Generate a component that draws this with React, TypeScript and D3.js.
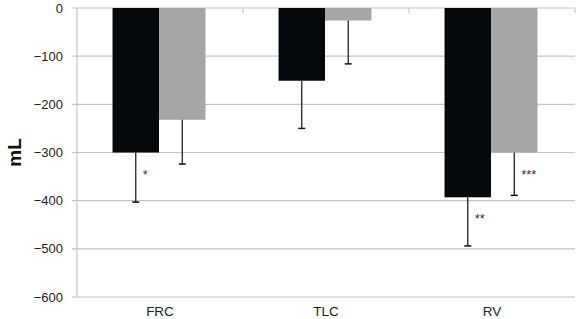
import React from "react";
import * as d3 from "d3";

const categories = ["FRC", "TLC", "RV"];
const blackValues = [-300, -151, -393];
const blackErrors = [-403, -250, -494];
const greyValues = [-232, -26, -300];
const greyErrors = [-324, -116, -389];
const blackMarks = ["*", "", "**"];
const greyMarks = ["", "", "***"];
const yTicks = [0, -100, -200, -300, -400, -500, -600];

const W = 576, H = 319;
const left = 77, right = 575, top = 8, bottom = 297;

export default function App() {
  const x = d3.scaleBand<string>().domain(categories).range([left, right]).paddingInner(0.44).paddingOuter(0.22);
  const y = d3.scaleLinear().domain([0, -600]).range([top, bottom]);
  const step = (right - left) / categories.length;
  const bw = x.bandwidth() / 2;
  const fmt = (v: number) => (v < 0 ? "\u2212" + Math.abs(v) : String(v));
  const font = "Arial, 'Liberation Sans', sans-serif";
  const series = [
    { vals: blackValues, errs: blackErrors, marks: blackMarks, color: "#05090b", off: 0 },
    { vals: greyValues, errs: greyErrors, marks: greyMarks, color: "#a6a6a6", off: 1 },
  ];
  return (
    <svg width={W} height={H} style={{ position: "absolute", left: 0, top: 0, background: "#fff" }}>
      {yTicks.map((t) => (
        <g key={t}>
          <line x1={72} x2={right} y1={y(t)} y2={y(t)} stroke="#c4c4c4" strokeWidth={1.2} />
          <text x={63} y={y(t)} dy="0.35em" textAnchor="end" fontFamily={font} fontSize={13} fill="#222">{fmt(t)}</text>
        </g>
      ))}
      <line x1={left} x2={left} y1={top} y2={bottom} stroke="#c4c4c4" strokeWidth={1.2} />
      {categories.map((c, i) => (
        <line key={c} x1={left + step * (i + 1)} x2={left + step * (i + 1)} y1={top} y2={top + 5} stroke="#c4c4c4" strokeWidth={1.2} />
      ))}
      {series.map((s) =>
        categories.map((c, i) => {
          const x0 = (x(c) as number) - 1 + s.off * bw;
          const cx = x0 + bw / 2;
          return (
            <g key={c + s.off}>
              <rect x={x0} y={y(0)} width={bw} height={y(s.vals[i]) - y(0)} fill={s.color} />
              <line x1={cx} x2={cx} y1={y(s.vals[i])} y2={y(s.errs[i])} stroke="#111" strokeWidth={1.2} />
              <line x1={cx - 3.5} x2={cx + 3.5} y1={y(s.errs[i])} y2={y(s.errs[i])} stroke="#111" strokeWidth={1.5} />
              {s.marks[i] && (
                <text x={cx + 7} y={y(s.vals[i]) + 26} fontFamily={font} fontSize={13} fill="#333">{s.marks[i]}</text>
              )}
            </g>
          );
        })
      )}
      {categories.map((c) => (
        <text key={c} x={(x(c) as number) + x.bandwidth() / 2} y={311} dy="0.35em" textAnchor="middle" fontFamily={font} fontSize={13.5} fill="#222">{c}</text>
      ))}
      <text transform={`translate(21,${(top + bottom) / 2}) rotate(-90)`} textAnchor="middle" fontFamily={font} fontSize={19} fontWeight="bold" fill="#111">mL</text>
    </svg>
  );
}
